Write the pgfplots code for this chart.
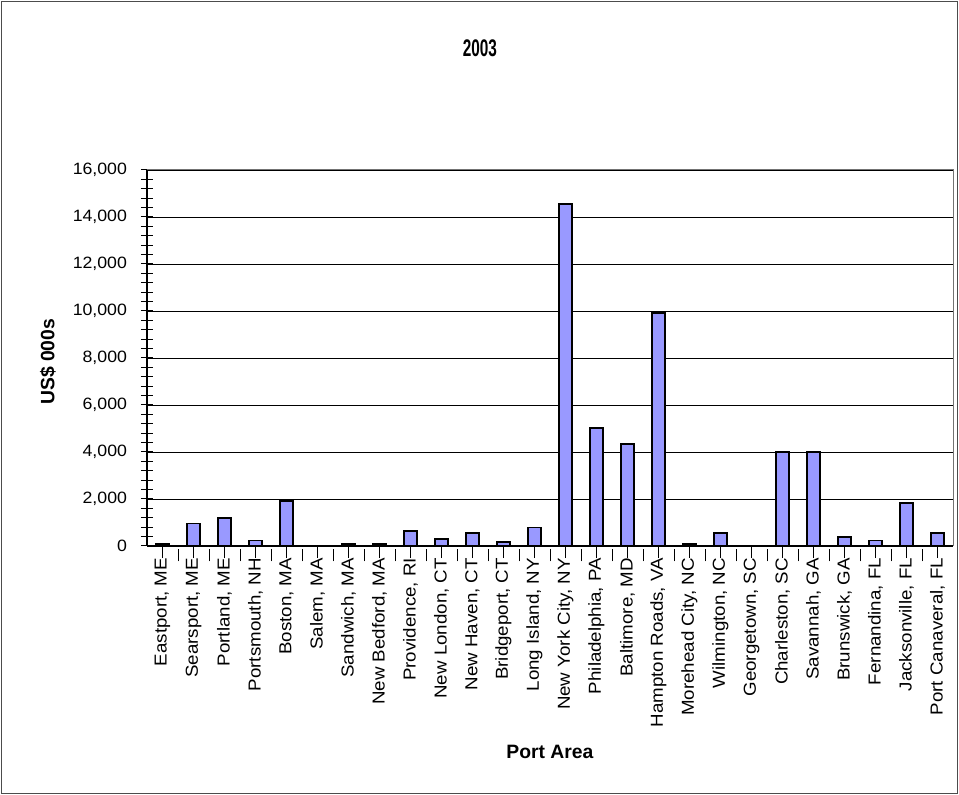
\documentclass[border=0pt]{standalone}
\usepackage{pgfplots}
\pgfplotsset{compat=1.18}
\usepackage{fontspec}
\setmainfont{Liberation Sans}
\newfontfamily\narrowfont[FakeStretch=0.64]{Liberation Sans}
\newfontfamily\tickfont[FakeStretch=1.08]{Liberation Sans}
\definecolor{barblue}{RGB}{153,153,255}
\begin{document}
\begin{tikzpicture}[x=0.75pt,y=0.75pt]
\useasboundingbox (0,0) rectangle (959,795);
\draw[black!70, line width=0.9pt] (1.2,1.2) rectangle (957.8,793.8);
\begin{axis}[
  at={(110.25pt,186.75pt)}, anchor=south west,
  scale only axis, width=604.5pt, height=282pt,
  xmin=-0.5, xmax=25.5, ymin=0, ymax=16000,
  axis x line*=bottom, axis y line*=left,
  axis line style={-, black, line width=0.9pt},
  xtick={0,...,25},
  xticklabels={{Eastport, ME},{Searsport, ME},{Portland, ME},{Portsmouth, NH},{Boston, MA},{Salem, MA},{Sandwich, MA},{New Bedford, MA},{Providence, RI},{New London, CT},{New Haven, CT},{Bridgeport, CT},{Long Island, NY},{New York City, NY},{Philadelphia, PA},{Baltimore, MD},{Hampton Roads, VA},{Morehead City, NC},{Wilmington, NC},{Georgetown, SC},{Charleston, SC},{Savannah, GA},{Brunswick, GA},{Fernandina, FL},{Jacksonville, FL},{Port Canaveral, FL}},
  minor x tick num=1,
  ytick={0,2000,...,16000},
  minor y tick num=4,
  tick align=center,
  major tick length=9pt, minor tick length=9pt,
  minor x tick style={yshift=-2.6pt, black, line width=0.75pt},
  major x tick style={black, line width=0.75pt},
  every tick/.style={black, line width=0.75pt},
  ymajorgrids, major grid style={black, line width=0.6pt},
  scaled y ticks=false,
  /pgf/number format/assume math mode=true,
  yticklabel={\pgfmathprintnumber[fixed, 1000 sep={,}]{\tick}},
  tick label style={font=\tickfont\fontsize{13}{15}\selectfont},
  yticklabel style={xshift=-7pt, font=\tickfont\fontsize{12.3}{14}\selectfont},
  xticklabel style={yshift=3.5pt, rotate=90, anchor=east},
  ylabel={\textbf{US\$ 000s}},
  ylabel style={at={(axis description cs:-0.1228,0.49)}, anchor=center, font=\fontsize{14.5}{16}\selectfont},
  xlabel={\textbf{Port Area}},
  xlabel style={at={(axis description cs:0.5,-0.548)}, anchor=center, font=\fontsize{14.5}{16}\selectfont},
  title={\narrowfont\bfseries 2003},
  title style={at={(axis description cs:0.413,1.303)}, anchor=center, font=\fontsize{18}{20}\selectfont},
  ybar, bar width=9.75pt,
  clip=false,
  after end axis/.code={\draw[black!55, line width=0.75pt] (rel axis cs:0,1) -- (rel axis cs:1,1) -- (rel axis cs:1,0);},
]
\addplot[fill=barblue, draw=black, line width=1.2pt] coordinates {
(0,80) (1,950) (2,1200) (3,240) (4,1910) (5,0) (6,80) (7,80) (8,640) (9,310)
(10,560) (11,170) (12,790) (13,14550) (14,5020) (15,4330) (16,9920) (17,80)
(18,560) (19,0) (20,4010) (21,4010) (22,390) (23,230) (24,1840) (25,560)
};
\end{axis}
\end{tikzpicture}
\end{document}
